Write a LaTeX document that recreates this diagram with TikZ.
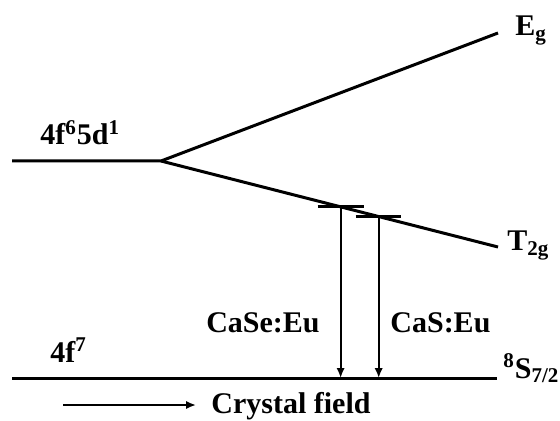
\documentclass[tikz,border=0pt]{standalone}
\usepackage{fontspec}
\setmainfont{Liberation Serif}
\usepackage{xcolor}
\definecolor{niveau}{HTML}{000000}
\usepackage{tikz}
\usetikzlibrary{positioning,arrows.meta,calc}

\begin{document}
\begin{tikzpicture}[x=0.5pt,y=-0.5pt,font=\bfseries\fontsize{15}{18}\selectfont,
  niv/.style={draw=niveau,line width=1.5pt},
  trans/.style={draw=niveau,line width=1pt,-{Latex[length=5pt,width=4.2pt]}},
  lab/.style={inner sep=0pt}]
\useasboundingbox (0,0) rectangle (560,421);
% niveaux excités 4f6 5d1 et éclatement par le champ cristallin
\coordinate (exc) at (12,161);
\coordinate (split) at (161,161);
\coordinate (eg) at (498,33);
\coordinate (t2g) at (498,247);
\draw[niv] (exc) -- (split) -- (eg);
\draw[niv] (split) -- (t2g);
\node[lab,anchor=base west] (labexc) at (40,145) {4f\textsuperscript{6}5d\textsuperscript{1}};
\node[lab,anchor=base west] (labeg) at (515,36) {E\textsubscript{g}};
\node[lab,anchor=base west] (labt2g) at (507,251) {T\textsubscript{2g}};
% niveau fondamental 4f7
\coordinate (gndl) at (12,378);
\coordinate (gndr) at (497,378);
\draw[niv] (gndl) -- (gndr);
\node[lab,anchor=base west] (labgnd) at (50,362) {4f\textsuperscript{7}};
\node[lab,anchor=base west] (labs) at (503,378) {\textsuperscript{8}S\textsubscript{7/2}};
% minima des deux matrices sur T2g
\coordinate (se) at ($(split)!0.533!(t2g)$);
\coordinate (s) at ($(split)!0.646!(t2g)$);
\draw[niv] ($(se)+(-23,0)$) -- ($(se)+(23,0)$);
\draw[niv] ($(s)+(-23,0)$) -- ($(s)+(22,0)$);
\draw[trans] (se) -- (se |- gndl);
\draw[trans] (s) -- (s |- gndl);
\node[lab,anchor=base east] (labse) at (320,332) {CaSe:Eu};
\node[lab,anchor=base west] (labcas) at (390,332) {CaS:Eu};
% sens du champ cristallin
\coordinate (cfa) at (63,405);
\coordinate (cfb) at (196,405);
\node[lab,anchor=base west] (labcf) at (211,413) {Crystal field};
\draw[trans] (cfa) -- (cfb);
\end{tikzpicture}
\end{document}
